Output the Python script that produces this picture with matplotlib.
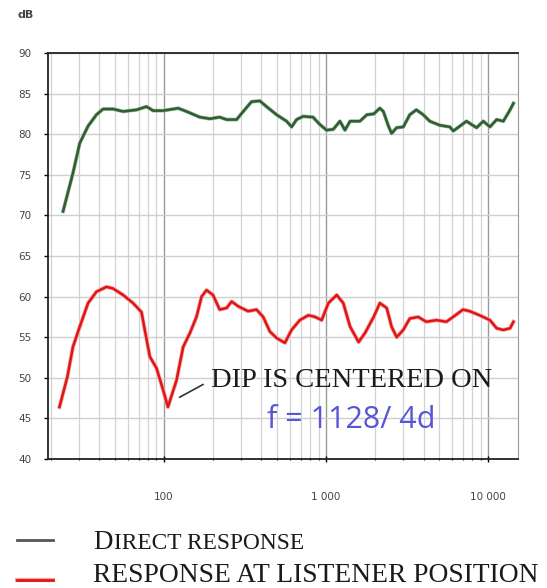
import matplotlib
matplotlib.use("Agg")
import matplotlib.pyplot as plt
import matplotlib.patheffects as pe
from matplotlib.lines import Line2D
from matplotlib.ticker import LogLocator, FixedLocator, NullFormatter

# direct response (green)
freq_direct = [23.9, 27.5, 30.3, 34.1, 38.4, 42.2, 48.6, 56.1, 67.8, 78.2, 85.9, 99,
               122.6, 138, 166.8, 192.4, 221, 243.8, 281, 309, 347.5, 391, 430, 496,
               572, 614, 659, 724, 832, 917, 1008, 1110, 1220, 1310, 1409, 1620, 1790,
               1970, 2150, 2260, 2430, 2540, 2730, 3000, 3290, 3610, 3980, 4370, 5040,
               5810, 6100, 6710, 7360, 8490, 9350, 10270, 11300, 12420, 13670, 14340]
db_direct = [70.5, 75.2, 78.9, 81.0, 82.4, 83.1, 83.1, 82.8, 83.0, 83.4, 82.9, 82.9,
             83.2, 82.8, 82.1, 81.9, 82.1, 81.8, 81.8, 82.8, 84.0, 84.1, 83.4, 82.4,
             81.6, 80.9, 81.8, 82.2, 82.1, 81.2, 80.5, 80.6, 81.6, 80.5, 81.6, 81.6, 82.4,
             82.5, 83.2, 82.8, 81.0, 80.1, 80.8, 80.9, 82.4, 83.0, 82.4, 81.6, 81.1,
             80.9, 80.4, 81.0, 81.6, 80.8, 81.6, 80.9, 81.8, 81.6, 83.0, 83.8]

# response at listener position (red)
freq_listener = [22.7, 25.4, 27.5, 30.3, 34.1, 38.4, 44.3, 48.6, 56.1, 64.6, 72.8, 76.3,
                 82.0, 90.1, 99, 106, 119.8, 131.6, 144.8, 159, 171, 183.4, 201, 221,
                 244, 262, 288, 331, 373, 410, 451, 496, 558, 614, 690, 778, 857, 941,
                 1035, 1165, 1279, 1409, 1590, 1740, 1970, 2150, 2370, 2540, 2730, 3000,
                 3290, 3700, 4160, 4800, 5530, 6090, 7010, 7710, 8870, 10270, 11300,
                 12420, 13670, 14340]
db_listener = [46.4, 50.1, 53.8, 56.3, 59.2, 60.6, 61.2, 61.0, 60.2, 59.2, 58.1, 55.9,
               52.6, 51.2, 48.5, 46.4, 49.7, 53.8, 55.5, 57.5, 60.0, 60.8, 60.2, 58.4,
               58.6, 59.4, 58.8, 58.2, 58.4, 57.5, 55.7, 54.9, 54.3, 55.9, 57.1, 57.7,
               57.5, 57.1, 59.2, 60.2, 59.2, 56.3, 54.4, 55.5, 57.5, 59.2, 58.6, 56.3,
               55.0, 55.9, 57.3, 57.5, 56.9, 57.1, 56.9, 57.5, 58.4, 58.2, 57.7, 57.1,
               56.1, 55.9, 56.1, 56.9]

x_ticks = [100, 1000, 10000]
x_ticklabels = ["100", "1 000", "10 000"]
y_ticks = [40, 45, 50, 55, 60, 65, 70, 75, 80, 85, 90]

fig = plt.figure(figsize=(5.47, 5.88), dpi=100)
ax = fig.add_axes([48 / 547, 1 - 459 / 588, 470 / 547, 406 / 588])

ax.set_xscale("log")
ax.set_xlim(19.3, 15300)
ax.set_ylim(40, 90)

# grid
ax.xaxis.set_minor_locator(LogLocator(base=10, subs=range(2, 10)))
ax.xaxis.set_minor_formatter(NullFormatter())
ax.grid(which="minor", axis="x", color="#d2d2d2", lw=0.9)
ax.grid(which="major", axis="x", color="#9a9a9a", lw=1.0)
ax.grid(which="major", axis="y", color="#cfcfcf", lw=1.0)

ax.plot(freq_direct, db_direct, color="#2f5e33", lw=1.8,
        path_effects=[pe.Stroke(linewidth=2.7, foreground="#9ab79a"), pe.Normal()])
ax.plot(freq_listener, db_listener, color="#e01515", lw=1.8,
        path_effects=[pe.Stroke(linewidth=2.9, foreground="#f7a5a5"), pe.Normal()])

ax.set_xticks(x_ticks)
ax.set_xticklabels(x_ticklabels)
ax.yaxis.set_major_locator(FixedLocator(y_ticks))
ax.tick_params(axis="y", length=3, width=1, pad=9, labelsize=7.5, labelcolor="#444444")
ax.tick_params(axis="x", which="major", length=4, width=1, pad=22, labelsize=7.5,
               labelcolor="#444444", direction="inout")
ax.tick_params(axis="x", which="minor", length=2, width=0.8, direction="inout")

for side in ["left", "bottom", "top"]:
    ax.spines[side].set_linewidth(1.3)
    ax.spines[side].set_color("#222222")
ax.spines["right"].set_color("#999999")

fig.text(17 / 547, 1 - 15 / 588, "dB", fontsize=8, fontweight="bold",
         color="#444444", va="center", ha="left")

# annotation of the dip
ax.annotate("DIP IS CENTERED ON", xy=(125, 47.6), xytext=(195, 49.7),
            fontsize=20.5, family="Liberation Serif", color="#1a1a1a",
            ha="left", va="center",
            arrowprops=dict(arrowstyle="-", color="#333333", lw=1.2,
                            shrinkA=4, shrinkB=0, relpos=(0, 0.5)))
ax.text(1427, 44.8, "f = 1128/ 4d", fontsize=22, family="Open Sans",
        color="#5656d6", ha="center", va="center")

# legend under the chart
fig.add_artist(Line2D([17 / 547, 53 / 547], [1 - 540 / 588] * 2, color="#555555", lw=2))
fig.add_artist(Line2D([17 / 547, 53 / 547], [1 - 580 / 588] * 2, color="#e01515", lw=2,
                      path_effects=[pe.Stroke(linewidth=3, foreground="#f7a5a5"), pe.Normal()]))
t = fig.text(93 / 547, 1 - 549 / 588, "D", fontsize=19.5, family="Liberation Serif",
             color="#1a1a1a", va="baseline", ha="left")
fig.canvas.draw()
bb = t.get_window_extent()
fig.text(bb.x1 / 547 + 0.002, 1 - 549 / 588, "IRECT RESPONSE", fontsize=16.8,
         family="Liberation Serif", color="#1a1a1a", va="baseline", ha="left")
fig.text(93 / 547, 0.5 / 588, "RESPONSE AT LISTENER POSITION", fontsize=19.8,
         family="Liberation Serif", color="#1a1a1a", va="bottom", ha="left")

fig.savefig("out.png", dpi=100)
